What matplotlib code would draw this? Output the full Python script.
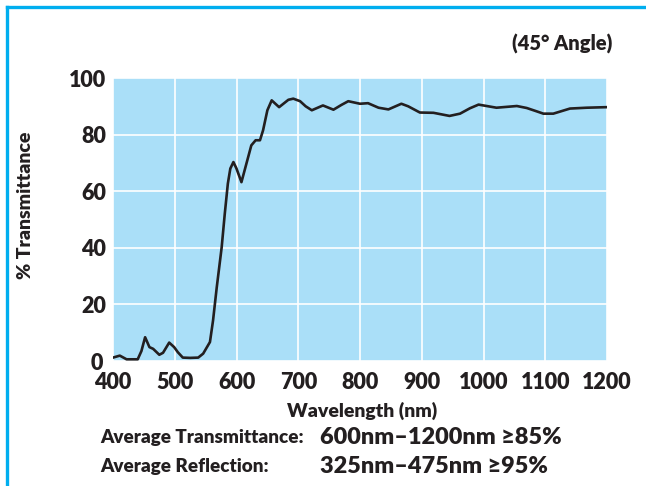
import matplotlib
matplotlib.use("Agg")
import matplotlib.pyplot as plt
import matplotlib.transforms as mtransforms
from matplotlib.lines import Line2D

plt.rcParams['font.family'] = ['Lato', 'DejaVu Sans']

# transmittance curve
wavelength = [400, 411, 422, 440, 446, 452, 459, 465, 475, 481, 491, 499, 505, 513,
              525, 538, 546, 557, 562, 568, 576, 581, 586, 590, 595, 600, 608, 616,
              624, 631, 638, 643, 650, 657, 669, 684, 692, 703, 712, 722, 740, 757,
              770, 781, 800, 813, 830, 846, 867, 878, 897, 919, 945, 962, 978, 992,
              1021, 1054, 1070, 1085, 1097, 1113, 1140, 1167, 1200]
transmit = [1.2, 1.9, 0.6, 0.6, 3.5, 8.4, 4.9, 4.3, 2.2, 2.9, 6.5, 4.9, 3.1, 1.2,
            1.1, 1.2, 2.6, 6.7, 14.3, 26.0, 40.2, 52.0, 62.7, 68.0, 70.3, 68.0, 63.2, 69.7,
            76.2, 78.0, 78.0, 81.5, 88.6, 92.1, 89.7, 92.3, 92.7, 91.8, 90.0, 88.6, 90.3, 88.8,
            90.5, 91.8, 90.9, 91.1, 89.5, 88.9, 90.9, 90.0, 87.8, 87.7, 86.6, 87.4, 89.3, 90.6,
            89.5, 90.1, 89.4, 88.3, 87.4, 87.4, 89.2, 89.5, 89.7]

xticks = [400, 500, 600, 700, 800, 900, 1000, 1100, 1200]
yticks = [0, 20, 40, 60, 80, 100]

ink = '#231f20'
fig = plt.figure(figsize=(6.46, 4.86), dpi=100)
ax = fig.add_axes([113 / 646, 125 / 486, 494 / 646, 283 / 486])
ax.set_facecolor('#aadff8')
ax.plot(wavelength, transmit, color=ink, lw=1.9, solid_joinstyle='round')
ax.set_xlim(400, 1200)
ax.set_ylim(0, 100)
ax.set_xticks(xticks)
ax.set_yticks(yticks)
ax.grid(True, color='white', lw=1.2)
ax.set_axisbelow(True)
for s in ax.spines.values():
    s.set_visible(False)
ax.tick_params(length=0, labelsize=15.5, labelcolor=ink)
ax.tick_params(axis='x', pad=8)
ax.tick_params(axis='y', pad=5)
for lab in ax.get_xticklabels() + ax.get_yticklabels():
    lab.set_fontweight('heavy')
# nudge the "0" left so it clears the "400"
zero = ax.get_yticklabels()[0]
zero.set_transform(zero.get_transform() + mtransforms.ScaledTranslation(-3 / 100, 0, fig.dpi_scale_trans))

fig.text(26 / 646, 1 - 205 / 486, '% Transmittance', rotation=90, ha='center', va='center',
         fontsize=14, fontweight='heavy', color=ink)
fig.text(362 / 646, 1 - 411 / 486, 'Wavelength (nm)', ha='center', va='center',
         fontsize=14, fontweight='heavy', color=ink)
fig.text(612 / 646, 1 - 44 / 486, '(45° Angle)', ha='right', va='center',
         fontsize=14.5, fontweight='heavy', color=ink)

fig.text(100 / 646, 1 - 437 / 486, 'Average Transmittance:', ha='left', va='center',
         fontsize=13.6, fontweight='heavy', color=ink)
fig.text(320 / 646, 1 - 437 / 486, '600nm–1200nm ≥85%', ha='left', va='center',
         fontsize=16.9, fontweight='heavy', color=ink)
fig.text(100 / 646, 1 - 466 / 486, 'Average Reflection:', ha='left', va='center',
         fontsize=13.6, fontweight='heavy', color=ink)
fig.text(320 / 646, 1 - 466 / 486, '325nm–475nm ≥95%', ha='left', va='center',
         fontsize=16.9, fontweight='heavy', color=ink)

# cyan frame on top and left
frame = '#00aeef'
fig.add_artist(Line2D([7 / 646, 1], [1 - 7.5 / 486, 1 - 7.5 / 486], color=frame, lw=2.4,
                      transform=fig.transFigure))
fig.add_artist(Line2D([7 / 646, 7 / 646], [0, 1 - 7.5 / 486], color=frame, lw=2.4,
                      transform=fig.transFigure))

fig.savefig('out.png', dpi=100)
